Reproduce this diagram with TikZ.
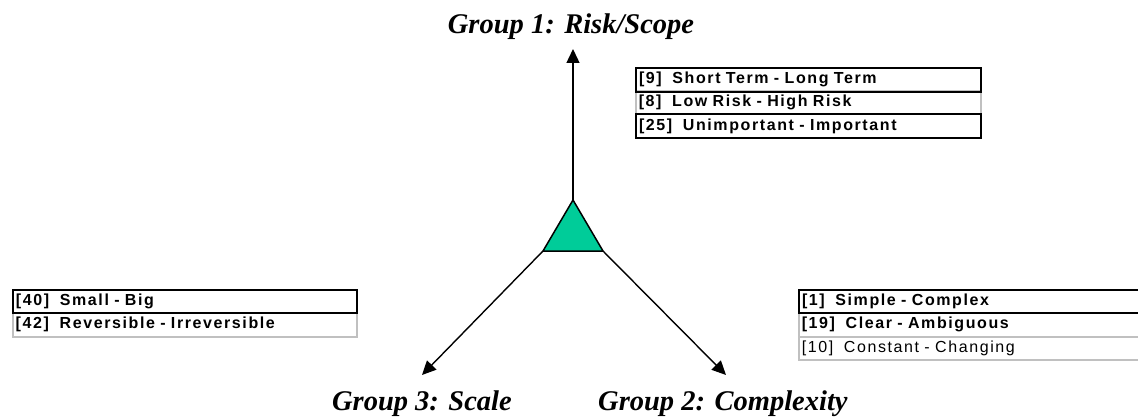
\documentclass[tikz,border=0pt]{standalone}
\usepackage{fontspec}
\setmainfont{Liberation Serif}
\newfontfamily\boxfont[LetterSpace=10]{Liberation Sans}
\usetikzlibrary{arrows.meta}
\definecolor{teal1}{HTML}{00CC99}
\definecolor{graybd}{HTML}{C0C0C0}
\tikzset{
  grp/.style={font=\fontsize{28.5}{30}\selectfont\bfseries\itshape, inner sep=0pt},
  bx/.style={rectangle, anchor=north west, inner xsep=3pt, inner ysep=0pt,
    align=left, font=\boxfont\fontsize{16}{18}\selectfont},
  bxblack/.style={bx, draw=black, line width=2pt},
  bxgray/.style={bx, draw=graybd, line width=1.5pt},
  arr/.style={line width=1.4pt, -{Triangle[length=14pt,width=13pt]}},
}
\begin{document}
\begin{tikzpicture}[x=1pt,y=-1pt]
\clip (0,0) rectangle (1138,420);
% titles
\node[grp, anchor=base] (g1) at (571,34) {Group 1: Risk/Scope};
\node[grp, anchor=base east] (g3) at (512,410) {Group 3: Scale};
\node[grp, anchor=base west] (g2) at (598,410) {Group 2: Complexity};
% triangle
\coordinate (apex) at (573,200);
\coordinate (bl) at (543,251);
\coordinate (br) at (603,251);
\coordinate (tt) at (573,49);
\coordinate (lt) at (422,375);
\coordinate (rt) at (726,375);
\draw[arr] (apex) -- (tt);
\draw[arr] (bl) -- (lt);
\draw[arr] (br) -- (rt);
\draw[line width=1.5pt, fill=teal1, line join=miter] (apex) -- (bl) -- (br) -- cycle;
% top-right boxes
\node[bxgray, text width=339pt, minimum height=23pt] (r8) at (635,90) {\bfseries [8]\ \ Low Risk - High Risk};
\node[bxblack, text width=339pt, minimum height=23.5pt] (r9) at (635,67) {\bfseries [9]\ \ Short Term - Long Term};
\node[bxblack, text width=339pt, minimum height=24pt] (r25) at (635,113) {\bfseries [25]\ \ Unimportant - Important};
% left boxes
\node[bxgray, text width=338pt, minimum height=24pt] (l42) at (12,312) {\bfseries [42]\ \ Reversible - Irreversible};
\node[bxblack, text width=338pt, minimum height=23pt] (l40) at (12,289) {\bfseries [40]\ \ Small - Big};
% right boxes
\node[bxgray, text width=354pt, minimum height=24pt] (c19) at (798,312) {\bfseries [19]\ \ Clear - Ambiguous};
\node[bxgray, text width=354pt, minimum height=23pt] (c10) at (798,336) {[10]\ \ Constant - Changing};
\node[bxblack, text width=354pt, minimum height=23pt] (c1) at (798,289) {\bfseries [1]\ \ Simple - Complex};
\end{tikzpicture}
\end{document}
